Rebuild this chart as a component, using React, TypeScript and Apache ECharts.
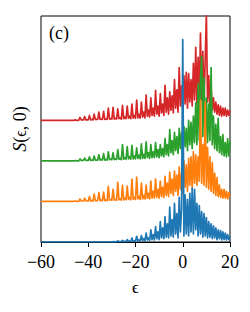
import React, { useEffect, useRef } from "react";
import * as echarts from "echarts";

// x grid: each series starts at its own start value, step 0.5 in epsilon
const STEP = 0.5;
const xTicks = [-60, -40, -20, 0, 20];

const blueStart = -30;
const blueVals = [
  0, 0.01, 0, 0.01,
  0, 0.03, 0.01, 0.01,
  0.01, 0.04, 0.01, 0.02,
  0.01, 0.06, 0.02, 0.02,
  0.02, 0.10, 0.02, 0.03,
  0.02, 0.14, 0.03, 0.05,
  0.03, 0.16, 0.04, 0.08,
  0.03, 0.22, 0.05, 0.10,
  0.04, 0.30, 0.06, 0.18,
  0.05, 0.38, 0.08, 0.25,
  0.06, 0.50, 0.10, 0.35,
  0.08, 0.62, 0.12, 0.45,
  0.10, 0.86, 0.15, 0.55,
  0.12, 0.95, 0.20, 0.70,
  0.10, 1.10, 0.25, 0.80,
  4.99, 0.15, 1.16, 0.20,
  1.05, 0.15, 1.20, 0.25,
  1.33, 0.20, 1.30, 0.30,
  0.95, 0.15, 0.90, 0.20,
  0.75, 0.12, 0.70, 0.15,
  0.60, 0.10, 0.50, 0.12,
  0.45, 0.08, 0.40, 0.10,
  0.35, 0.06, 0.30, 0.08,
  0.28, 0.05, 0.25, 0.06,
  0.22, 0.05, 0.18, 0.06,
  0.15,
];

const orangeStart = -46;
const orangeVals = [
  0, 0.01, 0, 0,
  0, 0.06, 0.01, 0.01,
  0.01, 0.08, 0.01, 0.01,
  0.01, 0.12, 0.01, 0.02,
  0.01, 0.18, 0.02, 0.02,
  0.02, 0.22, 0.02, 0.03,
  0.02, 0.23, 0.02, 0.03,
  0.02, 0.37, 0.03, 0.04,
  0.03, 0.30, 0.03, 0.05,
  0.03, 0.47, 0.04, 0.06,
  0.03, 0.40, 0.04, 0.08,
  0.04, 0.38, 0.05, 0.10,
  0.04, 0.55, 0.05, 0.10,
  0.05, 0.60, 0.06, 0.12,
  0.05, 0.45, 0.06, 0.15,
  0.06, 0.40, 0.08, 0.20,
  0.06, 0.50, 0.08, 0.25,
  0.08, 0.55, 0.10, 0.30,
  0.08, 0.50, 0.12, 0.35,
  0.10, 0.62, 0.15, 0.45,
  0.12, 0.72, 0.20, 0.55,
  0.15, 0.75, 0.25, 0.65,
  0.15, 0.85, 0.30, 0.70,
  0.20, 1.00, 0.35, 0.90,
  0.25, 1.06, 0.40, 1.10,
  0.30, 1.23, 0.45, 1.15,
  0.40, 1.10, 0.50, 2.50,
  0.45, 1.40, 0.40, 2.45,
  0.35, 1.33, 0.30, 1.10,
  0.25, 0.96, 0.20, 0.70,
  0.15, 0.59, 0.12, 0.40,
  0.10, 0.30, 0.08, 0.30,
  0.08, 0.25, 0.06, 0.22,
  0.12,
];

const greenStart = -46;
const greenVals = [
  0, 0.01, 0, 0,
  0, 0.05, 0.01, 0.01,
  0.01, 0.07, 0.01, 0.01,
  0.01, 0.10, 0.01, 0.02,
  0.01, 0.12, 0.02, 0.02,
  0.02, 0.15, 0.02, 0.03,
  0.02, 0.18, 0.02, 0.03,
  0.02, 0.22, 0.03, 0.04,
  0.03, 0.20, 0.03, 0.05,
  0.03, 0.28, 0.04, 0.06,
  0.03, 0.40, 0.04, 0.08,
  0.04, 0.35, 0.05, 0.10,
  0.04, 0.38, 0.05, 0.12,
  0.05, 0.32, 0.06, 0.14,
  0.05, 0.42, 0.06, 0.16,
  0.06, 0.47, 0.08, 0.20,
  0.06, 0.40, 0.08, 0.22,
  0.08, 0.45, 0.10, 0.28,
  0.08, 0.40, 0.12, 0.30,
  0.10, 0.55, 0.15, 0.40,
  0.12, 0.77, 0.20, 0.50,
  0.15, 0.70, 0.25, 0.60,
  0.18, 0.80, 0.30, 0.70,
  0.20, 0.85, 0.35, 0.80,
  0.25, 1.00, 0.40, 0.95,
  0.30, 1.10, 0.45, 1.43,
  0.40, 1.90, 0.50, 2.00,
  2.57, 0.60, 2.05, 0.50,
  1.55, 0.45, 1.40, 0.50,
  2.30, 0.40, 1.10, 0.30,
  0.90, 0.25, 1.05, 0.20,
  0.60, 0.15, 0.65, 0.12,
  0.45, 0.10, 0.55, 0.12,
  0.50,
];

const redStart = -46;
const redVals = [
  0, 0.01, 0, 0,
  0, 0.07, 0.01, 0.01,
  0.01, 0.09, 0.01, 0.01,
  0.01, 0.12, 0.01, 0.02,
  0.01, 0.15, 0.02, 0.02,
  0.02, 0.20, 0.02, 0.03,
  0.02, 0.22, 0.02, 0.03,
  0.02, 0.30, 0.03, 0.04,
  0.03, 0.32, 0.03, 0.05,
  0.03, 0.28, 0.04, 0.06,
  0.03, 0.37, 0.04, 0.08,
  0.04, 0.35, 0.05, 0.10,
  0.04, 0.40, 0.05, 0.12,
  0.05, 0.50, 0.06, 0.15,
  0.05, 0.45, 0.08, 0.20,
  0.06, 0.62, 0.10, 0.25,
  0.08, 0.55, 0.12, 0.30,
  0.10, 0.74, 0.15, 0.35,
  0.10, 0.66, 0.18, 0.40,
  0.12, 0.86, 0.20, 0.55,
  0.15, 0.70, 0.25, 0.60,
  0.18, 1.00, 0.30, 0.75,
  0.20, 1.30, 0.35, 0.85,
  0.25, 1.10, 0.40, 1.18,
  0.30, 1.15, 0.45, 1.00,
  0.35, 1.40, 0.50, 1.80,
  0.40, 1.55, 0.45, 2.15,
  0.50, 1.70, 0.40, 1.48,
  2.60, 0.45, 1.10, 0.35,
  0.80, 0.25, 0.55, 0.20,
  0.45, 0.15, 0.38, 0.12,
  0.35, 0.10, 0.30, 0.12,
  0.30, 0.10, 0.25, 0.12,
  0.25,
];

const offsets = { blue: 0, orange: 1, green: 2, red: 3 };
const colors = { blue: "#1f77b4", orange: "#ff7f0e", green: "#2ca02c", red: "#d62728" };

function build(start: number, vals: number[], off: number) {
  const pts: [number, number][] = [[-60, off]];
  vals.forEach((v, i) => pts.push([start + i * STEP, off + v]));
  return pts;
}

const SERIF = "serif";

export default function App() {
  const ref = useRef<HTMLDivElement>(null);
  useEffect(() => {
    if (!ref.current) return;
    const chart = echarts.init(ref.current, undefined, { renderer: "svg" });
    const mk = (name: string, data: [number, number][], color: string) => ({
      name,
      type: "line",
      data,
      showSymbol: false,
      symbol: "none",
      clip: true,
      lineStyle: { color, width: 1.7, join: "round" },
      emphasis: { disabled: true },
    });
    chart.setOption({
      animation: false,
      backgroundColor: "#fff",
      textStyle: { fontFamily: SERIF },
      grid: { left: 41, right: 20, top: 16, bottom: 70, show: true, borderColor: "#000", borderWidth: 1, backgroundColor: "transparent" },
      xAxis: {
        type: "value",
        min: xTicks[0],
        max: xTicks[xTicks.length - 1],
        interval: 20,
        axisLine: { show: true, lineStyle: { color: "#000", width: 1 } },
        axisTick: { show: true, length: 5, lineStyle: { color: "#000", width: 1 } },
        splitLine: { show: false },
        axisLabel: {
          color: "#000",
          fontFamily: SERIF,
          fontSize: 18,
          margin: 11,
          formatter: (v: number) => String(v).replace("-", "\u2212"),
        },
      },
      yAxis: {
        type: "value",
        min: 0,
        max: 5.57,
        axisLine: { show: false },
        axisTick: { show: false },
        axisLabel: { show: false },
        splitLine: { show: false },
      },
      graphic: [
        { type: "text", left: 49, top: 24, style: { text: "(c)", font: "18px serif", fill: "#000" } },
        {
          type: "text",
          x: 135.5,
          y: 287,
          style: { text: "\u03f5", font: "17px serif", fill: "#000", align: "center", verticalAlign: "middle" },
        },
        {
          type: "text",
          x: 20,
          y: 129,
          rotation: Math.PI / 2,
          style: {
            text: "{i|S}({e|\u03f5}, 0)",
            font: "18px serif",
            fill: "#000",
            align: "center",
            verticalAlign: "middle",
            rich: {
              i: { font: "italic 18px serif", fill: "#000" },
              e: { font: "16px serif", fill: "#000" },
            },
          },
        },
      ],
      series: [
        mk("red", build(redStart, redVals, offsets.red), colors.red),
        mk("green", build(greenStart, greenVals, offsets.green), colors.green),
        mk("orange", build(orangeStart, orangeVals, offsets.orange), colors.orange),
        mk("blue", build(blueStart, blueVals, offsets.blue), colors.blue),
      ],
    });
    return () => chart.dispose();
  }, []);
  return <div ref={ref} style={{ position: "fixed", left: 0, top: 0, width: 250, height: 312 }} />;
}
